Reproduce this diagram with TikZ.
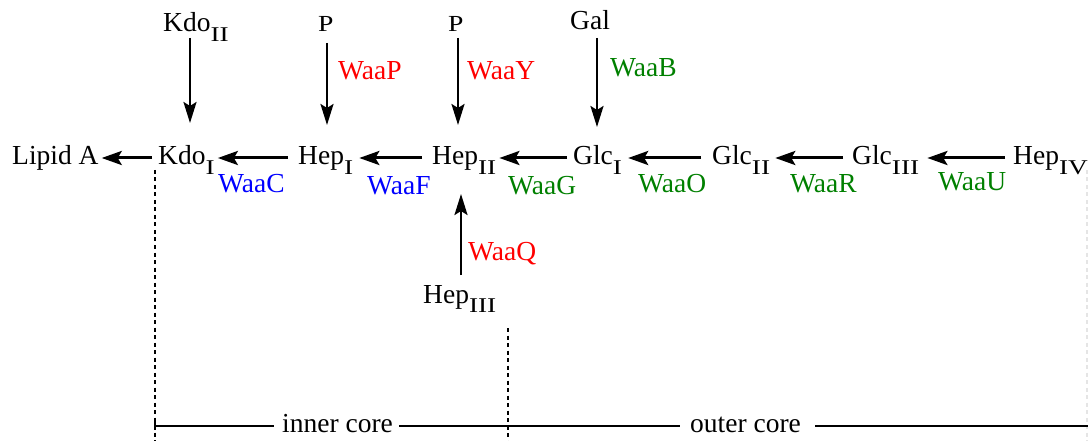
\documentclass[tikz,border=0pt]{standalone}
\usepackage{fontspec}
\usepackage{graphicx}
\setmainfont{Liberation Serif}
\usetikzlibrary{arrows.meta,calc}
\newcommand\rsub[1]{\raisebox{-9.5pt}{\fontsize{21}{24}\selectfont\scalebox{1.3}[1]{#1}}}
\definecolor{wred}{RGB}{255,0,0}
\definecolor{wblue}{RGB}{0,0,255}
\definecolor{wgreen}{RGB}{0,128,0}
\begin{document}
\begin{tikzpicture}[x=1pt,y=-1pt,
  lbl/.style={inner sep=0pt,anchor=base west,font=\fontsize{27.5}{32}\selectfont},
  smallp/.style={inner sep=0pt,anchor=base west,font=\fontsize{23}{26}\selectfont},
  enz/.style={lbl,text=#1},
  harr/.style={line width=3pt,-{Stealth[length=20pt,width=14pt,inset=4pt]}},
  varr/.style={line width=2.4pt,-{Stealth[length=21pt,width=13pt,inset=4pt]}},
  dsh/.style={line width=1.3pt,dash pattern=on 4pt off 3.5pt},
  core/.style={line width=1.6pt}]
\useasboundingbox (0,0) rectangle (1088,441);
% main row
\node[lbl] (lipid) at (12,165) {Lipid A};
\node[lbl] (kdoI) at (158,165) {Kdo\rsub{I}};
\node[lbl] (hepI) at (298,165) {Hep\rsub{I}};
\node[lbl] (hepII) at (432,165) {Hep\rsub{II}};
\node[lbl] (glcI) at (573,165) {Glc\rsub{I}};
\node[lbl] (glcII) at (712,165) {Glc\rsub{II}};
\node[lbl] (glcIII) at (852,165) {Glc\rsub{III}};
\node[lbl] (hepIV) at (1013,165) {Hep\rsub{IV}};
% top row
\node[lbl] (kdoII) at (163,32) {Kdo\rsub{II}};
\node[smallp] (p1) at (318,32) {\scalebox{1.2}[1]{P}};
\node[smallp] (p2) at (448,32) {\scalebox{1.2}[1]{P}};
\node[lbl] (gal) at (570,30) {Gal};
% bottom
\node[lbl] (hepIII) at (423,303) {Hep\rsub{III}};
% enzymes
\node[enz=wblue] (waaC) at (218,193) {WaaC};
\node[enz=wblue] (waaF) at (367,195) {WaaF};
\node[enz=wgreen] (waaG) at (508,195) {WaaG};
\node[enz=wgreen] (waaO) at (638,193) {WaaO};
\node[enz=wgreen] (waaR) at (790,193) {WaaR};
\node[enz=wgreen] (waaU) at (938,190) {WaaU};
\node[enz=wred] (waaP) at (338,80) {WaaP};
\node[enz=wred] (waaY) at (467,80) {WaaY};
\node[enz=wgreen] (waaB) at (610,77) {WaaB};
\node[enz=wred] (waaQ) at (468,260) {WaaQ};
% horizontal arrows
\draw[harr] ($(kdoI.base west)+(-6,-7)$) -- ($(lipid.base east)+(3,-7)$);
\draw[harr] ($(hepI.base west)+(-10,-7)$) -- ($(kdoI.base east)+(3,-7)$);
\draw[harr] ($(hepII.base west)+(-10,-7)$) -- ($(hepI.base east)+(6,-7)$);
\draw[harr] ($(glcI.base west)+(-6,-7)$) -- ($(hepII.base east)+(3,-7)$);
\draw[harr] ($(glcII.base west)+(-11,-7)$) -- ($(glcI.base east)+(6,-7)$);
\draw[harr] ($(glcIII.base west)+(-9,-7)$) -- ($(glcII.base east)+(5,-7)$);
\draw[harr] ($(hepIV.base west)+(-8,-7)$) -- ($(glcIII.base east)+(8,-7)$);
% vertical arrows
\draw[varr] ($(kdoII.base west)+(27,6)$) -- ($(kdoI.base west)+(32,-42)$);
\draw[varr] ($(p1.base west)+(9,11)$) -- ($(hepI.base west)+(29,-40)$);
\draw[varr] ($(p2.base west)+(10,6)$) -- ($(hepII.base west)+(26,-40)$);
\draw[varr] ($(gal.base west)+(27,8)$) -- ($(glcI.base west)+(24,-38)$);
\draw[varr] ($(hepIII.base west)+(38,-28)$) -- ($(hepII.base west)+(29,29)$);
% core brackets
\coordinate (d1t) at (155,170);
\coordinate (d1b) at (155,441);
\coordinate (d2t) at (508,328);
\coordinate (d2b) at (508,441);
\coordinate (d3t) at (1087,170);
\coordinate (d3b) at (1087,441);
\draw[dsh] (d1t) -- (d1b);
\draw[dsh] (d2t) -- (d2b);
\draw[dsh,gray!20] (d3t) -- (d3b);
\node[lbl] (inner) at (282,432) {inner core};
\node[lbl] (outer) at (690,432) {outer core};
\coordinate (cl) at (155,426);
\coordinate (cr) at (1088,426);
\draw[core] (cl) -- ($(inner.base west)+(-8,-6)$);
\draw[core] ($(inner.base east)+(6,-6)$) -- ($(outer.base west)+(-10,-6)$);
\draw[core] ($(outer.base east)+(14,-6)$) -- (cr);
\draw[line width=1.2pt] (155,422) -- (155,430);
\end{tikzpicture}
\end{document}
